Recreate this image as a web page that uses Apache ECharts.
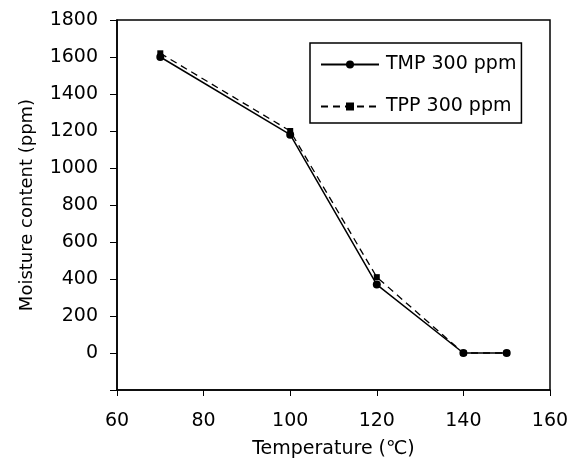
<!DOCTYPE html>
<html>
<head>
<meta charset="utf-8">
<script src="https://cdn.jsdelivr.net/npm/echarts@6/dist/echarts.min.js"></script>
<style>
  html, body { margin: 0; padding: 0; background: #fff; }
  #chart { width: 580px; height: 464px; }
</style>
</head>
<body>
<div id="chart"></div>
<script>
(function() {

    // temperature (°C) and moisture content (ppm)
    let temps = [70, 100, 120, 140, 150];
    let tmpValues = [1600, 1180, 370, 0, 0];
    let tppValues = [1620, 1200, 410, 0, 0];
    let seriesNames = ['TMP 300 ppm', 'TPP 300 ppm'];

    let chart = echarts.init(document.getElementById('chart'));
    const FONT = 'DejaVu Sans';

    function pairs(xs, ys) {
        return xs.map((x, i) => [x, ys[i]]);
    }

    let option = {
        backgroundColor: '#fff',
        animation: false,
        textStyle: { fontFamily: FONT, color: '#000' },
        grid: {
            left: 117, right: 30, top: 20, bottom: 73,
            show: true,
            borderColor: '#000',
            borderWidth: 1.5
        },
        legend: {
            orient: 'vertical',
            left: 310,
            top: 43,
            padding: [12, 5, 7, 10],
            itemWidth: 58,
            itemHeight: 10,
            itemGap: 23,
            borderColor: '#000',
            borderWidth: 1.5,
            textStyle: { fontFamily: FONT, fontSize: 19, color: '#000', padding: [0, 0, 0, 2] },
            data: seriesNames
        },
        xAxis: {
            type: 'value',
            min: 60, max: 160, interval: 20,
            name: 'Temperature (℃)',
            nameLocation: 'middle',
            nameGap: 50,
            nameTextStyle: { fontFamily: FONT, fontSize: 19, color: '#000' },
            axisLine: { onZero: false, lineStyle: { color: '#000', width: 1.5 } },
            axisTick: { show: true, inside: false, length: 6, lineStyle: { color: '#000' } },
            axisLabel: { fontFamily: FONT, fontSize: 19, color: '#000', margin: 22 },
            splitLine: { show: false }
        },
        yAxis: {
            type: 'value',
            min: -200, max: 1800, interval: 200,
            name: 'Moisture content (ppm)',
            nameLocation: 'middle',
            nameGap: 81,
            nameTextStyle: { fontFamily: FONT, fontSize: 18, color: '#000' },
            axisLine: { show: true, onZero: false, lineStyle: { color: '#000', width: 1.5 } },
            axisTick: { show: true, inside: false, length: 7, lineStyle: { color: '#000' } },
            axisLabel: {
                fontFamily: FONT, fontSize: 19, color: '#000', margin: 19,
                formatter: v => (v < 0 ? '' : String(v))
            },
            splitLine: { show: false }
        },
        series: [{
            name: seriesNames[0],
            type: 'line',
            data: pairs(temps, tmpValues),
            symbol: 'circle',
            symbolSize: 8,
            itemStyle: { color: '#000' },
            lineStyle: { color: '#000', width: 1.5, type: 'solid' }
        }, {
            name: seriesNames[1],
            type: 'line',
            data: pairs(temps, tppValues),
            symbol: 'rect',
            symbolSize: 6,
            itemStyle: { color: '#000' },
            lineStyle: { color: '#000', width: 1.3, type: [7, 5] }
        }]
    };

    chart.setOption(option);
}());
</script>
</body>
</html>
